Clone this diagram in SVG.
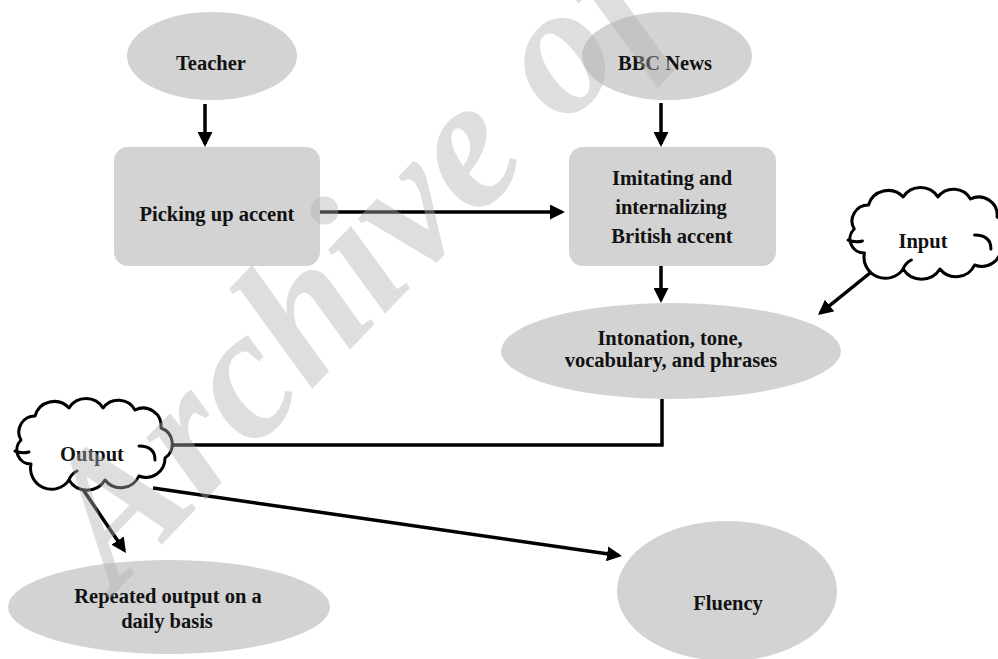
<svg xmlns="http://www.w3.org/2000/svg" width="998" height="659" viewBox="0 0 998 659">
  <style>
    .shape { fill: #d3d3d3; stroke: none; }
    .cloud { fill: #ffffff; stroke: #000; stroke-width: 3; stroke-linejoin: round; }
    .cloudin { fill: none; stroke: #000; stroke-width: 3; stroke-linecap: round; }
    .lbl { font-family: "Liberation Serif", "Times New Roman", serif; font-weight: bold; font-size: 20.5px; fill: #111; text-anchor: middle; }
    .conn { fill: none; stroke: #000; stroke-width: 3.5; }
    .wm { font-family: "Liberation Serif", "Times New Roman", serif; font-weight: bold; font-style: italic; font-size: 186px; fill: #b0b0b0; fill-opacity: 0.42; }
  </style>
  <defs>
    <marker id="arrow" viewBox="0 0 15 15" markerUnits="userSpaceOnUse" markerWidth="15" markerHeight="15" refX="12" refY="7.5" orient="auto">
      <path d="M0,0 L15,7.5 L0,15 Z" fill="#000"/>
    </marker>
    <g id="cloudShape">
      <path class="cloud" d="M22,68 A14,14 0 0 1 12,44 A16,16 0 0 1 26,20 A20,20 0 0 1 60,12 A20,20 0 0 1 94,12 A19,19 0 0 1 126,14 A18,18 0 0 1 152,32 A17,17 0 0 1 156,62 A19,19 0 0 1 130,80 A20,20 0 0 1 96,84 A21,21 0 0 1 60,84 A21,21 0 0 1 22,68 Z"/>
      <path class="cloudin" d="M130,50 Q146,50 146,64"/>
      <path class="cloudin" d="M6,55 Q13,58 20,56"/>
      <path class="cloudin" d="M60,84 Q62,78 68,75"/>
    </g>
  </defs>
  <rect width="998" height="659" fill="#ffffff"/>

  <g id="connectors">
    <line class="conn" x1="205" y1="104" x2="205" y2="144" marker-end="url(#arrow)"/>
    <line class="conn" x1="661" y1="103" x2="661" y2="144" marker-end="url(#arrow)"/>
    <line class="conn" x1="320" y1="212" x2="562" y2="212" marker-end="url(#arrow)"/>
    <line class="conn" x1="661" y1="266" x2="661" y2="300" marker-end="url(#arrow)"/>
    <line class="conn" x1="870" y1="273" x2="820.3" y2="313.1" marker-end="url(#arrow)"/>
    <polyline class="conn" points="662,399 662,445 172,445"/>
    <line class="conn" x1="82" y1="488" x2="124.3" y2="550.5" marker-end="url(#arrow)"/>
    <line class="conn" x1="153" y1="488" x2="619" y2="555.6" marker-end="url(#arrow)"/>
  </g>

  <g id="teacher">
    <ellipse class="shape" cx="212" cy="56" rx="85" ry="44"/>
    <text class="lbl" x="211" y="70">Teacher</text>
  </g>
  <g id="bbc-news">
    <ellipse class="shape" cx="667" cy="56" rx="85" ry="44"/>
    <text class="lbl" x="665" y="70">BBC News</text>
  </g>
  <g id="picking-up-accent">
    <rect class="shape" x="114" y="147" width="206" height="119" rx="14" ry="14"/>
    <text class="lbl" x="217" y="221">Picking up accent</text>
  </g>
  <g id="imitating">
    <rect class="shape" x="569" y="147" width="207" height="119" rx="14" ry="14"/>
    <text class="lbl" x="672" y="185">Imitating and</text>
    <text class="lbl" x="671" y="214">internalizing</text>
    <text class="lbl" x="672" y="243">British accent</text>
  </g>
  <g id="intonation">
    <ellipse class="shape" cx="671" cy="351" rx="170" ry="48"/>
    <text class="lbl" x="670" y="345">Intonation, tone,</text>
    <text class="lbl" x="671" y="367">vocabulary, and phrases</text>
  </g>
  <g id="input">
    <use href="#cloudShape" transform="translate(842,185) scale(1.02,1)"/>
    <text class="lbl" x="923" y="248">Input</text>
  </g>
  <g id="output">
    <use href="#cloudShape" transform="translate(9,396)"/>
    <text class="lbl" x="92" y="461">Output</text>
  </g>
  <g id="repeated-output">
    <ellipse class="shape" cx="169" cy="607" rx="161" ry="47"/>
    <text class="lbl" x="168" y="603">Repeated output on a</text>
    <text class="lbl" x="167" y="628">daily basis</text>
  </g>
  <g id="fluency">
    <ellipse class="shape" cx="727" cy="591" rx="110" ry="70"/>
    <text class="lbl" x="728" y="610">Fluency</text>
  </g>

  <text id="watermark" class="wm" transform="translate(116,592) rotate(-46)">Archive of</text>
</svg>
